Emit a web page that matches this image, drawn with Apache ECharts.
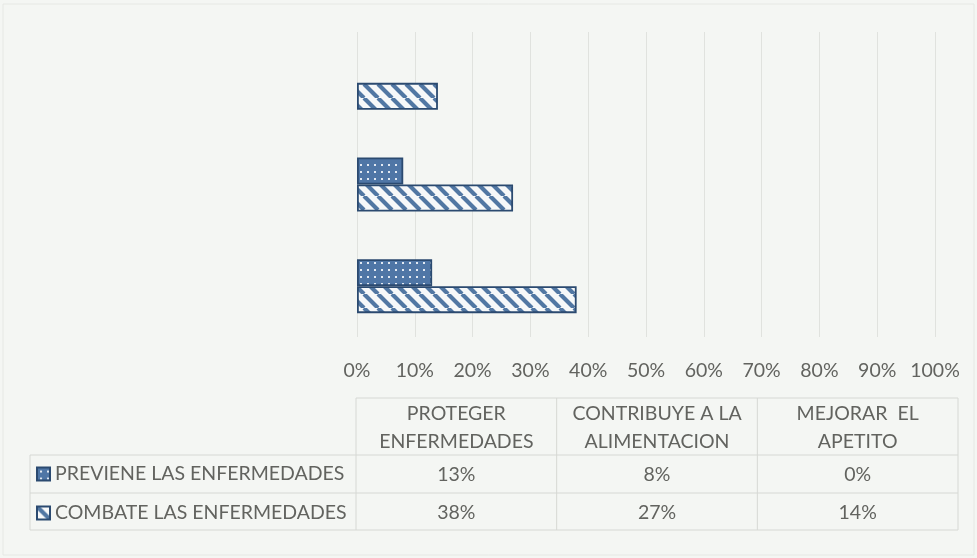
<!DOCTYPE html>
<html><head><meta charset="utf-8">
<script src="https://cdn.jsdelivr.net/npm/echarts@6/dist/echarts.min.js"></script>
<style>html,body{margin:0;padding:0;background:#f4f6f3}#c{width:977px;height:558px}</style>
</head><body><div id="c"></div>
<script>
// ---- data ----
const categories = ['PROTEGER\nENFERMEDADES', 'CONTRIBUYE A LA\nALIMENTACION', 'MEJORAR  EL\nAPETITO'];
const seriesNames = ['PREVIENE LAS ENFERMEDADES', 'COMBATE LAS ENFERMEDADES'];
const previene = [13, 8, 0];
const combate = [38, 27, 14];
const axisMin = 0, axisMax = 100, axisStep = 10;

// ---- patterns ----
function stripePattern() {
  const s = 14, c = document.createElement('canvas'); c.width = s; c.height = s;
  const g = c.getContext('2d');
  g.fillStyle = '#f6f8f9'; g.fillRect(0, 0, s, s);
  g.strokeStyle = '#5177a3'; g.lineWidth = 4.2;
  g.beginPath();
  for (let k = -1; k <= 1; k++) { g.moveTo(k * s, 0); g.lineTo(k * s + s, s); }
  g.stroke();
  return c;
}
function dotPattern() {
  const s = 7, c = document.createElement('canvas'); c.width = s; c.height = s;
  const g = c.getContext('2d');
  g.fillStyle = '#4f76a6'; g.fillRect(0, 0, s, s);
  g.fillStyle = '#e2e9f2'; g.fillRect(3, 3, 2, 2);
  return c;
}
const dotFill = { image: dotPattern(), repeat: 'repeat' };
const stripeFill = { image: stripePattern(), repeat: 'repeat' };

const FONT = 'Lato';
const FS = 19.5;
const TXT = '#62635f';
const GRIDC = '#e0e2de';
const TABC = '#d6d8d4';
const EDGE = '#2b4a70';

// ---- table geometry ----
const T = { left: 30, mid: 356, right: 958, top: 398, hb: 455, r1: 493, bot: 530 };
const colW = (T.right - T.mid) / categories.length;
const g = [];
function hline(x1, x2, y) { g.push({ type: 'line', silent: true, shape: { x1, y1: y, x2, y2: y }, style: { stroke: TABC, lineWidth: 1 } }); }
function vline(x, y1, y2) { g.push({ type: 'line', silent: true, shape: { x1: x, y1, x2: x, y2 }, style: { stroke: TABC, lineWidth: 1 } }); }
hline(T.mid, T.right, T.top);
[T.hb, T.r1, T.bot].forEach(y => hline(T.left, T.right, y));
vline(T.left, T.hb, T.bot);
for (let i = 0; i <= categories.length; i++) vline(T.mid + i * colW, T.top, T.bot);
function txt(x, y, s) {
  g.push({ type: 'text', silent: true, x, y, style: { text: s, fill: TXT, font: FS + 'px ' + FONT, align: 'center', verticalAlign: 'middle', lineHeight: 28 } });
}
categories.forEach((c, i) => {
  const cx = T.mid + (i + 0.5) * colW;
  txt(cx, (T.top + T.hb) / 2 + 1, c);
  txt(cx, (T.hb + T.r1) / 2 + 1, previene[i] + '%');
  txt(cx, (T.r1 + T.bot) / 2 + 1, combate[i] + '%');
});
g.push({ type: 'rect', silent: true, shape: { x: 3, y: 4, width: 971, height: 551 }, style: { fill: 'none', stroke: '#e6e8e4', lineWidth: 1 } });

const chart = echarts.init(document.getElementById('c'));
chart.setOption({
  animation: false,
  backgroundColor: '#f4f6f3',
  grid: { left: 357, right: 42, top: 32, bottom: 221, containLabel: false },
  xAxis: {
    type: 'value', min: axisMin, max: axisMax, interval: axisStep,
    axisLine: { show: false }, axisTick: { show: false },
    splitLine: { show: true, lineStyle: { color: GRIDC, width: 1 } },
    axisLabel: { formatter: v => v + '%', color: TXT, fontSize: FS, fontFamily: FONT, margin: 24 }
  },
  yAxis: {
    type: 'category', data: categories,
    axisLine: { show: false }, axisTick: { show: false }, axisLabel: { show: false }
  },
  legend: {
    orient: 'vertical', left: 36, top: 464, padding: 0, itemWidth: 13, itemHeight: 13, itemGap: 19,
    icon: 'rect', selectedMode: false,
    textStyle: { color: TXT, fontSize: FS, fontFamily: FONT, lineHeight: 13 },
    data: seriesNames
  },
  series: [
    {
      name: seriesNames[0], type: 'bar', barWidth: 27, barGap: '0%',
      data: previene.map(v => v === 0 ? { value: v, itemStyle: { borderWidth: 0 } } : v),
      itemStyle: { color: dotFill, borderColor: EDGE, borderWidth: 1.8 }
    },
    {
      name: seriesNames[1], type: 'bar', barWidth: 27, barGap: '0%',
      data: combate,
      itemStyle: { color: stripeFill, borderColor: EDGE, borderWidth: 1.8 }
    }
  ],
  graphic: g
});
</script></body></html>
